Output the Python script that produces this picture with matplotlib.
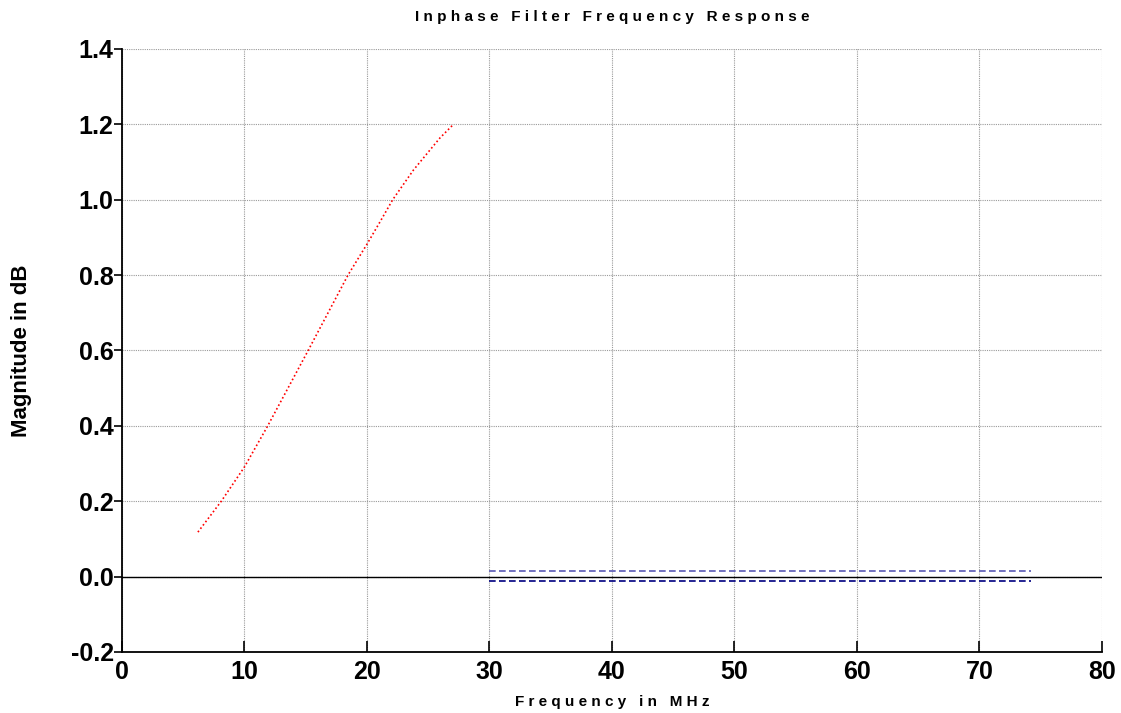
import numpy as np
import matplotlib.pyplot as plt

# red curve (inphase response)
freq_mhz = [6.2, 8.13, 10.0, 11.9, 15.2, 18.45, 20.0, 21.06, 22.1, 23.8, 25.96, 27.0]
mag_db = [0.118, 0.201, 0.291, 0.400, 0.600, 0.800, 0.882, 0.941, 1.000, 1.079, 1.164, 1.198]

# passband limit lines
band_mhz = [30.0, 74.2]
upper_limit = [0.016, 0.016]
lower_limit = [-0.012, -0.012]

x_ticks = [0, 10, 20, 30, 40, 50, 60, 70, 80]
y_ticks = [-0.2, 0.0, 0.2, 0.4, 0.6, 0.8, 1.0, 1.2, 1.4]

plt.rcParams["font.family"] = ["Liberation Sans", "DejaVu Sans"]

fig = plt.figure(figsize=(11.21, 7.13), dpi=100)
ax = fig.add_axes([0.1088, 0.0856, 0.8742, 0.8457])

ax.plot(freq_mhz, mag_db, color="red", linestyle=(0, (1, 1.5)), linewidth=1.2)
ax.plot(band_mhz, upper_limit, color="#5a5ab4", linestyle=(0, (4, 2)), linewidth=1.2)
ax.plot(band_mhz, lower_limit, color="#000080", linestyle=(0, (4, 2)), linewidth=1.2)
ax.axhline(0.0, color="black", linewidth=1.0)

ax.set_xlim(0, 80)
ax.set_ylim(-0.2, 1.4)
ax.set_xticks(x_ticks)
ax.set_yticks(y_ticks)
ax.set_xticklabels([str(t) for t in x_ticks])
ax.set_yticklabels([f"{t:.1f}" for t in y_ticks])

ax.grid(True, color="#9a9a9a", linestyle=(0, (1, 1)), linewidth=0.8)
ax.spines["top"].set_visible(False)
ax.spines["right"].set_visible(False)
ax.spines["left"].set_linewidth(1.3)
ax.spines["bottom"].set_linewidth(1.3)

ax.tick_params(axis="y", direction="out", length=6, width=1.2, labelsize=18, pad=0)
ax.tick_params(axis="x", direction="in", length=8, width=1.2, labelsize=18, pad=6)
for lab in ax.get_xticklabels() + ax.get_yticklabels():
    lab.set_fontweight("bold")

ax.set_title("I n p h a s e   F i l t e r   F r e q u e n c y   R e s p o n s e",
             fontsize=11, fontweight="bold", pad=20)
ax.set_xlabel("F r e q u e n c y   i n   M H z", fontsize=11, fontweight="bold", labelpad=8)
ax.set_ylabel("Magnitude in dB", fontsize=16, fontweight="bold")
ax.yaxis.set_label_coords(-0.092, 0.5)

fig.savefig("out.png", dpi=100)
